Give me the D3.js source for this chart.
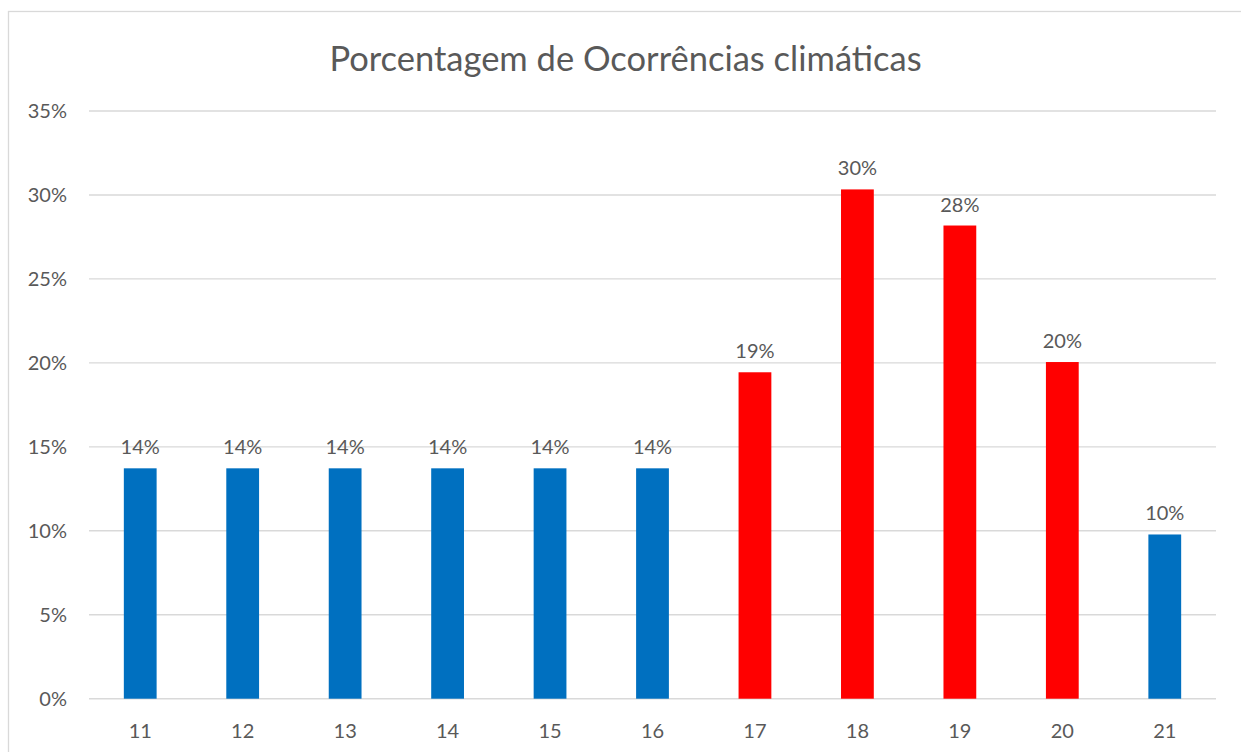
<!DOCTYPE html>
<html>
<head>
<meta charset="utf-8">
<script src="https://cdnjs.cloudflare.com/ajax/libs/d3/7.8.5/d3.min.js"></script>
<style>
  body { margin: 0; background: #fff; }
  svg text { font-family: Lato, "Open Sans", sans-serif; fill: #595959; }
</style>
</head>
<body>
<svg id="chart" width="1241" height="752"></svg>
<script>
// data
var categories = ["11", "12", "13", "14", "15", "16", "17", "18", "19", "20", "21"];
var values = [0.1372, 0.1372, 0.1372, 0.1372, 0.1372, 0.1372, 0.1944, 0.3033, 0.2818, 0.2005, 0.0978];
var highlight = [false, false, false, false, false, false, true, true, true, true, false];
var yTicks = [0, 0.05, 0.10, 0.15, 0.20, 0.25, 0.30, 0.35];
var title = "Porcentagem de Ocorrências climáticas";

var width = 1241, height = 752;
var margin = {top: 111, right: 25, bottom: 53, left: 89};

var svg = d3.select("#chart");

// chart frame
svg.append("rect")
    .attr("x", 8.5).attr("y", 11.5)
    .attr("width", 1250).attr("height", 760)
    .attr("fill", "#fff")
    .attr("stroke", "#d9d9d9")
    .attr("stroke-width", 1.3);

var x = d3.scaleBand()
    .domain(categories)
    .range([margin.left, width - margin.right])
    .paddingInner(0.68)
    .paddingOuter(0.34);

var y = d3.scaleLinear()
    .domain([0, 0.35])
    .range([height - margin.bottom - 0.3, margin.top]);

// gridlines
svg.append("g").selectAll("line")
    .data(yTicks)
    .enter().append("line")
    .attr("x1", margin.left).attr("x2", width - margin.right)
    .attr("y1", function(d){ return y(d); })
    .attr("y2", function(d){ return y(d); })
    .attr("stroke", "#d9d9d9")
    .attr("stroke-width", 1.4);

// y axis labels
var yAxis = d3.axisLeft(y).tickValues(yTicks).tickFormat(d3.format(".0%")).tickSize(0).tickPadding(22);
var gy = svg.append("g").attr("transform", "translate(" + margin.left + ",0)").call(yAxis);
gy.select(".domain").remove();
gy.selectAll("text").style("font-size", "20px").attr("fill", "#595959");

// x axis labels
var xAxis = d3.axisBottom(x).tickSize(0).tickPadding(25);
var gx = svg.append("g").attr("transform", "translate(0," + (height - margin.bottom) + ")").call(xAxis);
gx.select(".domain").remove();
gx.selectAll("text").style("font-size", "20px").attr("fill", "#595959");

// bars
svg.append("g").selectAll("rect")
    .data(values)
    .enter().append("rect")
    .attr("x", function(d, i){ return x(categories[i]); })
    .attr("y", function(d){ return y(d); })
    .attr("width", x.bandwidth())
    .attr("height", function(d){ return y(0) - y(d); })
    .attr("fill", function(d, i){ return highlight[i] ? "#ff0000" : "#0070c0"; });

// data labels
svg.append("g").selectAll("text")
    .data(values)
    .enter().append("text")
    .attr("x", function(d, i){ return x(categories[i]) + x.bandwidth() / 2; })
    .attr("y", function(d){ return y(d) - 14; })
    .attr("text-anchor", "middle")
    .style("font-size", "20px")
    .text(function(d){ return d3.format(".0%")(d); });

// title
svg.append("text")
    .attr("x", 625.5).attr("y", 71)
    .attr("text-anchor", "middle")
    .style("font-size", "34.5px")
    .text(title);
</script>
</body>
</html>
